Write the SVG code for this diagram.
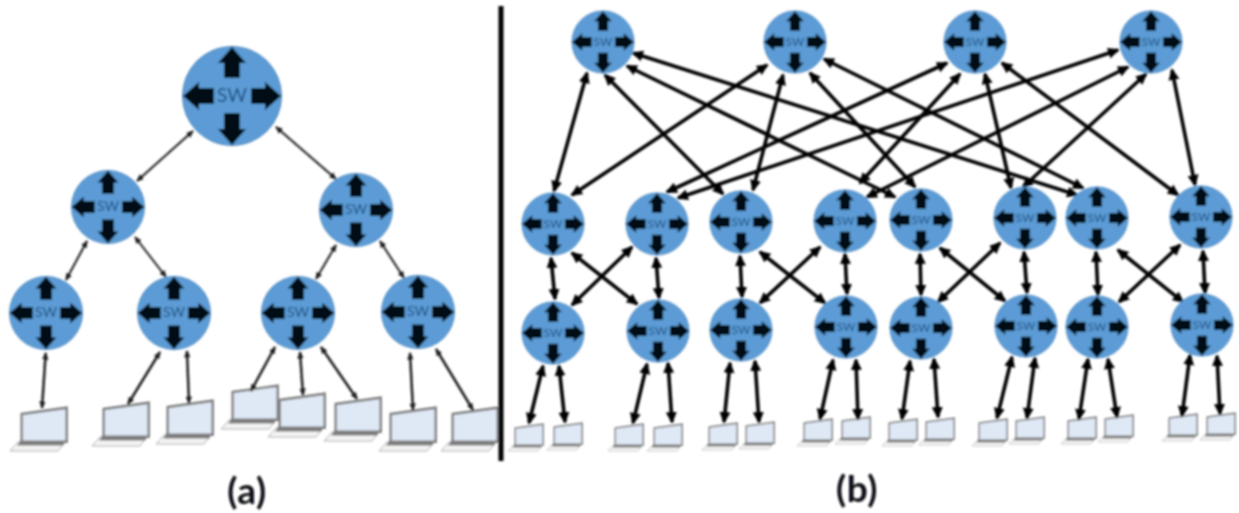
<svg xmlns="http://www.w3.org/2000/svg" width="1239" height="513" viewBox="0 0 1239 513">
<style>
.sw{font-family:"Lato","Liberation Sans",sans-serif;font-size:19px;fill:#1d4f80;text-anchor:middle}
.cap{font-family:"Lato","Liberation Sans",sans-serif;font-size:37px;font-weight:700;fill:#0b0b12;text-anchor:middle;letter-spacing:.5px}
.thin line{stroke:#1c1c1c;stroke-width:2;marker-start:url(#hs);marker-end:url(#hs)}
.med line{stroke:#1c1c1c;stroke-width:2.5;marker-start:url(#hs);marker-end:url(#hs)}
.thick line{stroke:#060606;stroke-width:3.6;marker-start:url(#hl);marker-end:url(#hl)}
</style>
<defs>
<filter id="soft" x="0" y="0" width="1239" height="513" filterUnits="userSpaceOnUse"><feGaussianBlur stdDeviation="0.8"/></filter>
<marker id="hs" markerUnits="userSpaceOnUse" markerWidth="10" markerHeight="8" refX="6.5" refY="4" orient="auto-start-reverse"><path d="M0 .8L7.5 4L0 7.2Z" fill="#1c1c1c"/></marker>
<marker id="hl" markerUnits="userSpaceOnUse" markerWidth="14" markerHeight="14" refX="10" refY="7" orient="auto-start-reverse"><path d="M0 1.5L12 7L0 12.5Z" fill="#060606"/></marker>
<g id="swb">
<circle r="49.5" fill="#5b9bd5" stroke="#4f86bb" stroke-width="1"/>
<path fill="#040a16" d="M0-49L14-33H8V-18H-8V-33H-14ZM0 49L14 33H8V17H-8V33H-14ZM-49 0L-33-14V-8H-18V8H-33V14ZM49 0L33-14V-8H19V8H33V14Z"/>
</g>
<g id="lap">
<polygon points="8,-9 55,-9 48,0 0,0" fill="#f4f4f4" stroke="#b0b0b0" stroke-width="1"/>
<polygon points="11,-11 56,-11 53,-5.5 7,-5.5" fill="#7a7a7a"/>
<polygon points="11.7,-37 56.7,-43.3 56.7,-9.3 11.7,-9.3" fill="#dfe8f5" stroke="#7d7d7d" stroke-width="2.4"/>
</g>
</defs>
<rect width="1239" height="513" fill="#fff"/>
<g filter="url(#soft)">
<g id="laptops">
<use href="#lap" transform="translate(10,451)"/>
<use href="#lap" transform="translate(92,446)"/>
<use href="#lap" transform="translate(156,444)"/>
<use href="#lap" transform="translate(221,429)"/>
<use href="#lap" transform="translate(268,437)"/>
<use href="#lap" transform="translate(324,441)"/>
<use href="#lap" transform="translate(379,451)"/>
<use href="#lap" transform="translate(441,451)"/>
<use href="#lap" transform="translate(508,451) scale(.62)"/>
<use href="#lap" transform="translate(547,450) scale(.62)"/>
<use href="#lap" transform="translate(608,451) scale(.62)"/>
<use href="#lap" transform="translate(647,451) scale(.62)"/>
<use href="#lap" transform="translate(702,450) scale(.62)"/>
<use href="#lap" transform="translate(739,449) scale(.62)"/>
<use href="#lap" transform="translate(797,446) scale(.62)"/>
<use href="#lap" transform="translate(835,444) scale(.62)"/>
<use href="#lap" transform="translate(882,446) scale(.62)"/>
<use href="#lap" transform="translate(919,445) scale(.62)"/>
<use href="#lap" transform="translate(972,446) scale(.62)"/>
<use href="#lap" transform="translate(1009,444) scale(.62)"/>
<use href="#lap" transform="translate(1061,444) scale(.62)"/>
<use href="#lap" transform="translate(1098,442) scale(.62)"/>
<use href="#lap" transform="translate(1162,441) scale(.62)"/>
<use href="#lap" transform="translate(1200,440) scale(.62)"/>
</g>
<g id="connectors">
<g class="thin">
<line x1="193" y1="131" x2="137" y2="181"/>
<line x1="276" y1="127" x2="336" y2="179"/>
<line x1="87" y1="241" x2="66" y2="280"/>
<line x1="135" y1="237" x2="166" y2="277"/>
<line x1="336" y1="245" x2="316" y2="279"/>
<line x1="380" y1="241" x2="404" y2="278"/>
</g>
<g class="med">
<line x1="45.7" y1="353" x2="42" y2="408"/>
<line x1="160" y1="352" x2="128" y2="404"/>
<line x1="187" y1="351" x2="189" y2="403"/>
<line x1="275" y1="347" x2="251" y2="391"/>
<line x1="300" y1="352" x2="303" y2="395"/>
<line x1="321" y1="347" x2="357" y2="399"/>
<line x1="410" y1="353" x2="413" y2="410"/>
<line x1="436" y1="349" x2="473" y2="410"/>
</g>
<g class="thick">
<line x1="587" y1="73" x2="554" y2="191"/>
<line x1="605" y1="75" x2="723" y2="194"/>
<line x1="627" y1="66" x2="895" y2="197"/>
<line x1="633" y1="53" x2="1077" y2="195"/>
<line x1="767" y1="65" x2="572" y2="195"/>
<line x1="783" y1="75" x2="753" y2="190"/>
<line x1="810" y1="73" x2="915" y2="187"/>
<line x1="824" y1="59" x2="1083" y2="188"/>
<line x1="947" y1="63" x2="667" y2="192"/>
<line x1="960" y1="74" x2="860" y2="183"/>
<line x1="985" y1="74" x2="1011" y2="188"/>
<line x1="1002" y1="63" x2="1178" y2="195"/>
<line x1="1118" y1="50" x2="678" y2="198"/>
<line x1="1128" y1="67" x2="867" y2="197"/>
<line x1="1146" y1="74" x2="1023" y2="187"/>
<line x1="1172" y1="70" x2="1195" y2="185"/>
<line x1="551" y1="258" x2="555" y2="299"/>
<line x1="632" y1="247" x2="572" y2="305"/>
<line x1="572" y1="253" x2="637" y2="304"/>
<line x1="656" y1="258" x2="659" y2="298"/>
<line x1="740" y1="256" x2="742" y2="297"/>
<line x1="760" y1="252" x2="825" y2="303"/>
<line x1="820" y1="247" x2="760" y2="303"/>
<line x1="845" y1="254" x2="847" y2="294"/>
<line x1="920" y1="254" x2="921" y2="295"/>
<line x1="940" y1="248" x2="1005" y2="301"/>
<line x1="1000" y1="243" x2="938" y2="302"/>
<line x1="1024" y1="252" x2="1027" y2="293"/>
<line x1="1096" y1="252" x2="1098" y2="295"/>
<line x1="1118" y1="250" x2="1183" y2="302"/>
<line x1="1180" y1="245" x2="1119" y2="302"/>
<line x1="1203" y1="251" x2="1205" y2="293"/>
<line x1="543" y1="366" x2="529" y2="423"/>
<line x1="559" y1="366" x2="565" y2="422"/>
<line x1="647" y1="364" x2="633" y2="423"/>
<line x1="668" y1="363" x2="672" y2="422"/>
<line x1="730" y1="363" x2="724" y2="422"/>
<line x1="755" y1="361" x2="759" y2="422"/>
<line x1="833" y1="360" x2="820" y2="419"/>
<line x1="856" y1="360" x2="858" y2="419"/>
<line x1="910" y1="361" x2="902" y2="419"/>
<line x1="934" y1="359" x2="938" y2="417"/>
<line x1="1012" y1="357" x2="997" y2="418"/>
<line x1="1035" y1="358" x2="1027" y2="418"/>
<line x1="1088" y1="359" x2="1079" y2="419"/>
<line x1="1108" y1="359" x2="1117" y2="417"/>
<line x1="1190" y1="355" x2="1182" y2="416"/>
<line x1="1217" y1="356" x2="1220" y2="414"/>
</g>
</g>
<g id="a-root" transform="translate(232,96)"><use href="#swb"/><text class="sw" y="6">SW</text></g>
<g id="a-mid1" transform="translate(108,207) scale(.74)"><use href="#swb"/><text class="sw" y="6">SW</text></g>
<g id="a-mid2" transform="translate(356,210) scale(.74)"><use href="#swb"/><text class="sw" y="6">SW</text></g>
<g id="a-leaf1" transform="translate(46,313) scale(.74)"><use href="#swb"/><text class="sw" y="6">SW</text></g>
<g id="a-leaf2" transform="translate(174,313) scale(.74)"><use href="#swb"/><text class="sw" y="6">SW</text></g>
<g id="a-leaf3" transform="translate(298,313) scale(.74)"><use href="#swb"/><text class="sw" y="6">SW</text></g>
<g id="a-leaf4" transform="translate(418,312) scale(.74)"><use href="#swb"/><text class="sw" y="6">SW</text></g>
<g id="b-top1" transform="translate(603,42) scale(.63)"><use href="#swb"/><text class="sw" y="6">SW</text></g>
<g id="b-top2" transform="translate(795,42) scale(.63)"><use href="#swb"/><text class="sw" y="6">SW</text></g>
<g id="b-top3" transform="translate(975,42) scale(.63)"><use href="#swb"/><text class="sw" y="6">SW</text></g>
<g id="b-top4" transform="translate(1151,42) scale(.63)"><use href="#swb"/><text class="sw" y="6">SW</text></g>
<g id="b-mid1" transform="translate(553,224) scale(.63)"><use href="#swb"/><text class="sw" y="6">SW</text></g>
<g id="b-mid2" transform="translate(657,224) scale(.63)"><use href="#swb"/><text class="sw" y="6">SW</text></g>
<g id="b-mid3" transform="translate(741,222) scale(.63)"><use href="#swb"/><text class="sw" y="6">SW</text></g>
<g id="b-mid4" transform="translate(845,221) scale(.63)"><use href="#swb"/><text class="sw" y="6">SW</text></g>
<g id="b-mid5" transform="translate(921,220) scale(.63)"><use href="#swb"/><text class="sw" y="6">SW</text></g>
<g id="b-mid6" transform="translate(1025,218) scale(.63)"><use href="#swb"/><text class="sw" y="6">SW</text></g>
<g id="b-mid7" transform="translate(1097,218) scale(.63)"><use href="#swb"/><text class="sw" y="6">SW</text></g>
<g id="b-mid8" transform="translate(1201,217) scale(.63)"><use href="#swb"/><text class="sw" y="6">SW</text></g>
<g id="b-low1" transform="translate(553,333) scale(.63)"><use href="#swb"/><text class="sw" y="6">SW</text></g>
<g id="b-low2" transform="translate(658,331) scale(.63)"><use href="#swb"/><text class="sw" y="6">SW</text></g>
<g id="b-low3" transform="translate(741,330) scale(.63)"><use href="#swb"/><text class="sw" y="6">SW</text></g>
<g id="b-low4" transform="translate(846,327) scale(.63)"><use href="#swb"/><text class="sw" y="6">SW</text></g>
<g id="b-low5" transform="translate(921,328) scale(.63)"><use href="#swb"/><text class="sw" y="6">SW</text></g>
<g id="b-low6" transform="translate(1026,326) scale(.63)"><use href="#swb"/><text class="sw" y="6">SW</text></g>
<g id="b-low7" transform="translate(1097,327) scale(.63)"><use href="#swb"/><text class="sw" y="6">SW</text></g>
<g id="b-low8" transform="translate(1202,325) scale(.63)"><use href="#swb"/><text class="sw" y="6">SW</text></g>
<rect id="divider" x="498.5" y="6" width="5" height="455" fill="#000"/>
<text class="cap" x="247" y="504">(a)</text>
<text class="cap" x="857" y="502">(b)</text>
</g>
</svg>
